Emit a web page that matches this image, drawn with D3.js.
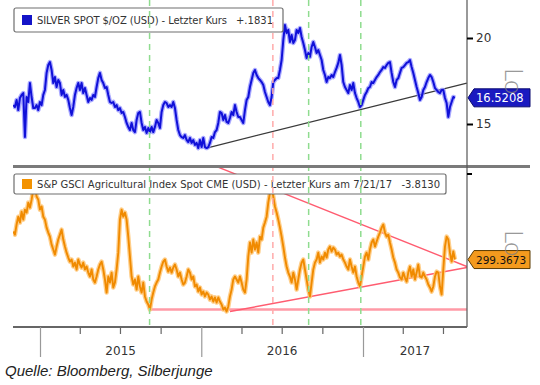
<!DOCTYPE html>
<html>
<head>
<meta charset="utf-8">
<script src="https://cdn.jsdelivr.net/npm/d3@7"></script>
<style>
  body { margin: 0; background: #fff; }
  svg { display: block; font-family: "DejaVu Sans", sans-serif; }
</style>
</head>
<body>
<div id="chart"></div>
<script>
// Sampling grid of the two series (about 3.8 days apart)
const sampleStart = new Date(2014, 10, 1, 12);
const sampleStepMinutes = 5432;

// Silver spot, USD per ounce
const silver = [
  16.10, 15.99, 16.40, 15.81, 16.51, 16.69, 16.80, 14.24, 16.57, 16.28,
  17.38, 16.57, 15.93, 15.93, 16.10, 15.81, 16.28, 16.10, 16.69, 16.98,
  17.97, 18.43, 18.60, 18.14, 17.38, 17.73, 17.15, 17.56, 17.38, 16.69,
  16.98, 16.57, 16.69, 16.40, 15.93, 15.52, 15.99, 16.69, 17.09, 17.38,
  16.98, 17.38, 16.80, 17.09, 16.69, 16.28, 16.51, 16.40, 16.69, 16.57,
  17.15, 17.67, 17.97, 17.56, 17.38, 17.09, 17.15, 16.69, 16.28, 16.22,
  16.28, 15.99, 16.10, 15.81, 15.93, 15.64, 15.70,
  15.41, 15.06, 14.83, 14.65, 15.06, 14.65, 14.53, 15.23, 15.64, 15.70,
  15.06, 14.65, 14.83, 14.48, 14.77, 14.53, 14.83, 14.53, 14.83, 15.23,
  15.06, 14.77, 15.70, 16.10, 16.28, 16.22, 15.99, 16.10, 15.99, 16.28,
  15.93, 15.23, 14.65, 14.36, 14.24, 14.19, 14.36, 14.07, 13.95, 14.19,
  13.90, 14.07, 13.78, 13.90, 13.60, 14.07, 13.66, 14.19, 13.66, 13.60,
  13.66, 13.90, 14.24, 14.19, 14.53, 14.65, 15.06, 15.70, 15.64, 15.23,
  15.52, 15.12, 15.06, 15.35, 15.70, 15.52, 16.10, 15.70, 15.41,
  15.41, 15.23, 15.06, 15.81, 16.40, 16.57, 17.15, 17.56, 17.97, 18.14,
  17.85, 17.67, 17.56, 17.44, 17.27, 16.86, 16.57, 16.28, 16.10, 16.57,
  17.44, 17.56, 17.67, 17.67, 18.14, 18.72, 19.88, 20.76, 20.29, 20.47,
  19.77, 20.17, 19.71, 19.88, 20.47, 20.29, 20.58, 20.06, 19.71, 19.30,
  18.84, 19.13, 18.90, 19.48, 19.77, 19.48, 19.13, 19.30, 19.01, 18.72,
  18.14, 17.85, 17.44, 17.73, 17.67, 17.85, 17.73, 18.02, 18.26, 18.55,
  19.01, 18.43, 17.44, 17.15, 16.98, 16.80,
  17.27, 16.98, 17.38, 16.80, 16.51, 16.28, 15.99, 16.10, 16.40, 16.69,
  16.86, 17.09, 17.15, 17.44, 17.38, 17.56, 17.73, 17.85, 18.02, 18.14,
  18.31, 18.26, 18.43, 18.55, 18.60, 17.97, 17.44, 17.15, 17.56, 17.67,
  17.97, 18.26, 18.31, 18.43, 18.55, 18.60, 18.72, 18.31, 17.97, 17.56,
  17.15, 16.80, 16.40, 16.57, 16.98, 17.15, 17.44, 17.67, 17.85, 17.73,
  17.44, 17.09, 16.98, 16.86, 16.80, 16.98, 16.98, 16.51, 16.22, 15.41,
  15.99, 16.28, 16.57, 16.5208
];

// S&P GSCI Agricultural Index Spot
const gsci = [
  316.5, 314.6, 320.8, 325.6, 322.0, 328.7, 323.8, 329.9, 328.1, 334.2,
  331.1, 336.0, 342.1, 344.0, 337.9, 336.0, 329.9, 331.8, 325.6, 323.8,
  318.9, 315.9, 313.4, 308.5, 305.5, 302.4, 307.3, 311.6, 314.6, 317.7,
  311.6, 307.3, 303.6, 300.6, 298.1, 299.4, 295.1, 297.5, 293.3, 299.4,
  296.3, 294.5, 297.5, 293.3, 295.1, 291.4, 289.0, 293.3, 287.2, 285.3,
  289.0, 293.3, 296.3, 298.1, 293.3, 287.2, 279.2, 289.0, 285.3, 291.4,
  282.3, 285.3, 293.3, 303.6, 323.8, 329.9, 325.6,
  328.1, 323.8, 313.4, 301.2, 289.0, 284.1, 287.2, 281.0, 289.0, 282.9,
  279.2, 285.3, 276.8, 273.7, 271.9, 268.8, 274.9, 279.2, 282.9, 285.3,
  287.2, 291.4, 295.1, 298.1, 299.4, 295.1, 292.0, 294.5, 291.4, 294.5,
  296.3, 293.3, 289.0, 291.4, 287.2, 284.1, 285.3, 289.0, 293.3, 291.4,
  287.2, 289.0, 282.9, 284.1, 279.8, 282.3, 278.0, 279.8, 276.8, 279.2,
  278.0, 274.9, 276.8, 273.7, 276.2, 273.1, 276.2, 273.7, 271.9, 268.8,
  270.0, 267.6, 270.7, 276.8, 281.0, 287.2, 289.0, 287.2, 285.3,
  289.0, 285.3, 281.0, 279.2, 287.2, 301.2, 309.8, 303.6, 311.6, 305.5,
  309.8, 303.6, 313.4, 311.6, 318.9, 322.0, 325.6, 334.2, 340.3, 344.0,
  337.9, 331.8, 328.1, 323.8, 318.9, 313.4, 307.3, 300.6, 295.1, 291.4,
  289.0, 285.3, 291.4, 287.2, 281.0, 287.2, 293.3, 297.5, 299.4, 293.3,
  287.2, 281.0, 276.8, 285.3, 293.3, 297.5, 299.4, 303.6, 297.5, 301.2,
  299.4, 303.6, 300.6, 305.5, 307.3, 304.3, 306.7, 305.5, 302.4, 303.6,
  301.2, 302.4, 299.4, 297.5, 295.1, 293.3,
  299.4, 295.1, 291.4, 295.1, 289.0, 285.3, 282.9, 289.0, 295.1, 301.2,
  303.6, 299.4, 305.5, 309.8, 311.6, 307.3, 310.4, 313.4, 315.9, 318.9,
  320.8, 315.9, 313.4, 314.6, 309.8, 305.5, 300.6, 297.5, 293.3, 291.4,
  288.4, 287.2, 291.4, 288.4, 285.9, 291.4, 295.1, 289.0, 293.3, 287.2,
  291.4, 296.3, 289.0, 288.4, 291.4, 289.0, 287.2, 284.1, 282.3, 279.8,
  282.9, 289.0, 292.0, 291.4, 282.9, 278.0, 293.3, 307.3, 313.4, 311.6,
  303.6, 298.1, 304.3, 299.3673
];

// Trend lines drawn on the chart: [date, value] end points
const silverTrend = [["2016-01-13", 13.60], ["2017-08-24", 17.38]];
const gsciSupport = [["2015-09-06", 268.8], ["2017-08-24", 268.8]];
const gsciTrendUp = [["2016-03-06", 267.6], ["2017-08-24", 294.5]];
const gsciTrendDown = [["2016-02-05", 356.2], ["2017-08-24", 295.1]];

// Vertical event markers
const eventDates = ["2015-09-06", "2016-06-11", "2016-08-31", "2016-12-27"];
const eventKinds = ["green", "pink", "green", "green"];

const silverTicks = [15, 20];
const yearLabels = [2015, 2016, 2017];
const silverLegend = "SILVER SPOT $/OZ (USD) - Letzter Kurs";
const silverChange = "+.1831";
const gsciLegend = "S&P GSCI Agricultural Index Spot CME (USD) - Letzter Kurs am 7/21/17";
const gsciChange = "-3.8130";
const silverLast = "16.5208";
const gsciLast = "299.3673";
const source = "Quelle: Bloomberg, Silberjunge";

const width = 540, height = 385;
const plotLeft = 13, plotRight = 467;
const topPanel = { top: 0, bottom: 166 };
const botPanel = { top: 168, bottom: 327 };

const parse = d3.timeParse("%Y-%m-%d");
const dates = silver.map((d, i) => d3.timeMinute.offset(sampleStart, i * sampleStepMinutes));

const x = d3.scaleTime()
    .domain([new Date(2015, 0, 1), new Date(2017, 0, 1)])
    .range([40, 363]);
const yTop = d3.scaleLinear().domain([15, 20]).range([124, 38]);
const yBot = d3.scaleLinear().domain([250, 360]).range([340.3, 160.4]);

const svg = d3.select("#chart").append("svg")
    .attr("width", width)
    .attr("height", height);

const defs = svg.append("defs");
defs.append("clipPath").attr("id", "clipTop").append("rect")
    .attr("x", plotLeft).attr("y", topPanel.top)
    .attr("width", plotRight - plotLeft).attr("height", topPanel.bottom - topPanel.top);
defs.append("clipPath").attr("id", "clipBot").append("rect")
    .attr("x", plotLeft).attr("y", botPanel.top)
    .attr("width", plotRight - plotLeft).attr("height", botPanel.bottom - botPanel.top);

const gTop = svg.append("g").attr("clip-path", "url(#clipTop)");
const gBot = svg.append("g").attr("clip-path", "url(#clipBot)");

// trend lines
const trend = y => d3.line().x(d => x(parse(d[0]))).y(d => y(d[1]));

gTop.append("path")
    .attr("d", trend(yTop)(silverTrend))
    .attr("fill", "none").attr("stroke", "#3a3a3a").attr("stroke-width", 1.2);

gBot.append("path")
    .attr("d", trend(yBot)(gsciSupport))
    .attr("fill", "none").attr("stroke", "#ff9aa6").attr("stroke-width", 2.5);
[gsciTrendUp, gsciTrendDown].forEach(t => {
  gBot.append("path")
      .attr("d", trend(yBot)(t))
      .attr("fill", "none").attr("stroke", "#ff5c70").attr("stroke-width", 1.4);
});

// series
const lineTop = d3.line().x((d, i) => x(dates[i])).y(d => yTop(d));
const lineBot = d3.line().x((d, i) => x(dates[i])).y(d => yBot(d));

gTop.append("path").attr("d", lineTop(silver))
    .attr("fill", "none").attr("stroke", "#8c8cff").attr("stroke-width", 4.5)
    .attr("stroke-linejoin", "round").attr("opacity", 0.75);
gTop.append("path").attr("d", lineTop(silver))
    .attr("fill", "none").attr("stroke", "#1010d8").attr("stroke-width", 2)
    .attr("stroke-linejoin", "round");

gBot.append("path").attr("d", lineBot(gsci))
    .attr("fill", "none").attr("stroke", "#ffc777").attr("stroke-width", 4.5)
    .attr("stroke-linejoin", "round").attr("opacity", 0.85);
gBot.append("path").attr("d", lineBot(gsci))
    .attr("fill", "none").attr("stroke", "#f08a00").attr("stroke-width", 1.9)
    .attr("stroke-linejoin", "round");

// legend boxes
function legend(y0, h, w, color, label, labelWidth, change, changeEnd) {
  const g = svg.append("g").attr("transform", `translate(14,${y0})`);
  g.append("rect")
      .attr("width", w).attr("height", h).attr("rx", 2)
      .attr("fill", "#fff").attr("stroke", "#6e6e6e").attr("stroke-width", 1.2);
  g.append("rect")
      .attr("x", 8).attr("y", h / 2 - 5).attr("width", 10).attr("height", 10)
      .attr("fill", color);
  g.append("text")
      .attr("x", 23).attr("y", h / 2 + 3.6)
      .attr("font-size", 10).attr("fill", "#333")
      .attr("textLength", labelWidth).attr("lengthAdjust", "spacing")
      .text(label);
  g.append("text")
      .attr("x", changeEnd).attr("y", h / 2 + 3.6)
      .attr("text-anchor", "end")
      .attr("font-size", 10).attr("fill", "#333")
      .text(change);
}
legend(8, 24, 269, "#1414c8", silverLegend, 190, silverChange, 259);
legend(174, 20, 432, "#f39200", gsciLegend, 355, gsciChange, 426);

// vertical event markers (both panels)
const eventColor = { green: "#8fdc8f", pink: "#ffaaaa" };
svg.append("g").selectAll("line")
    .data(eventDates)
    .join("line")
    .attr("x1", d => x(parse(d))).attr("x2", d => x(parse(d)))
    .attr("y1", topPanel.top).attr("y2", botPanel.bottom)
    .attr("stroke", (d, i) => eventColor[eventKinds[i]])
    .attr("stroke-width", 1.5)
    .attr("stroke-dasharray", "6,5");

// panel separator
svg.append("line")
    .attr("x1", plotLeft).attr("x2", 530)
    .attr("y1", topPanel.bottom + 0.5).attr("y2", topPanel.bottom + 0.5)
    .attr("stroke", "#7a7a7a").attr("stroke-width", 3);

// right axes
svg.append("line")
    .attr("x1", plotRight).attr("x2", plotRight)
    .attr("y1", 0).attr("y2", botPanel.bottom)
    .attr("stroke", "#555").attr("stroke-width", 1.2);

const axTop = svg.append("g")
    .attr("transform", `translate(${plotRight},0)`)
    .call(d3.axisRight(yTop).tickValues(silverTicks).tickSize(6).tickPadding(3)
        .tickFormat(d3.format("d")));
axTop.select(".domain").remove();
axTop.selectAll(".tick line").attr("stroke", "#000").attr("stroke-width", 2);
axTop.selectAll(".tick text")
    .attr("font-family", "DejaVu Sans").attr("font-size", 12).attr("fill", "#333");

const axBot = svg.append("g")
    .attr("transform", `translate(${plotRight},0)`)
    .call(d3.axisRight(yBot).tickValues([352]).tickSize(5).tickFormat(""));
axBot.select(".domain").remove();
axBot.selectAll(".tick line").attr("stroke", "#000").attr("stroke-width", 2);

// x axis
const xAxisScale = x.copy()
    .domain([x.invert(plotLeft), x.invert(plotRight)])
    .range([plotLeft, plotRight]);
svg.append("line")
    .attr("x1", plotLeft).attr("x2", plotRight)
    .attr("y1", botPanel.bottom).attr("y2", botPanel.bottom)
    .attr("stroke", "#666").attr("stroke-width", 2);

const axX = svg.append("g")
    .attr("transform", `translate(0,${botPanel.bottom})`)
    .call(d3.axisBottom(xAxisScale).ticks(d3.timeMonth.every(3)).tickSize(7).tickFormat(""));
axX.select(".domain").remove();
axX.selectAll(".tick line").attr("stroke-width", 1.2)
    .attr("y2", d => d.getMonth() === 0 ? 30 : 7)
    .attr("stroke", d => d.getMonth() === 0 ? "#999" : "#666");

// year labels sit in the middle of the visible part of each year
const yearMid = yr => {
  const a = Math.max(xAxisScale(new Date(yr, 0, 1)), plotLeft);
  const b = Math.min(xAxisScale(new Date(yr + 1, 0, 1)), plotRight);
  return (a + b) / 2;
};
svg.append("g").selectAll("text")
    .data(yearLabels)
    .join("text")
    .attr("x", yearMid)
    .attr("y", 355)
    .attr("text-anchor", "middle")
    .attr("font-size", 12).attr("fill", "#333")
    .text(d => d);

// last value tags
function valueTag(yPos, fill, stroke, textColor, label, fontSize) {
  const g = svg.append("g").attr("transform", `translate(${plotRight},${yPos})`);
  g.append("path")
      .attr("d", "M1,0 L7,-9 L63,-9 L63,9 L7,9 Z")
      .attr("fill", fill).attr("stroke", stroke).attr("stroke-width", 1);
  g.append("text")
      .attr("x", 9).attr("y", 4)
      .attr("font-size", fontSize).attr("fill", textColor)
      .text(label);
}
valueTag(yTop(silver[silver.length - 1]), "#1a1ac0", "#0a0a70", "#fff", silverLast, 11.5);
valueTag(yBot(gsci[gsci.length - 1]), "#f39a1e", "#5a3a00", "#111", gsciLast, 10.5);

// faint rotated scale marks at the right edge
[[505, 68], [505, 230]].forEach(p => {
  svg.append("text")
      .attr("transform", `translate(${p[0]},${p[1]}) rotate(90)`)
      .attr("font-family", "Lato, sans-serif").attr("font-weight", 300)
      .attr("font-size", 26).attr("fill", "#808080").attr("opacity", 0.8)
      .text("Lo");
});

// source
svg.append("text")
    .attr("x", 5).attr("y", 376)
    .attr("font-family", "Liberation Sans, Arial, sans-serif")
    .attr("font-style", "italic").attr("font-size", 15).attr("fill", "#222")
    .text(source);
</script>
</body>
</html>
